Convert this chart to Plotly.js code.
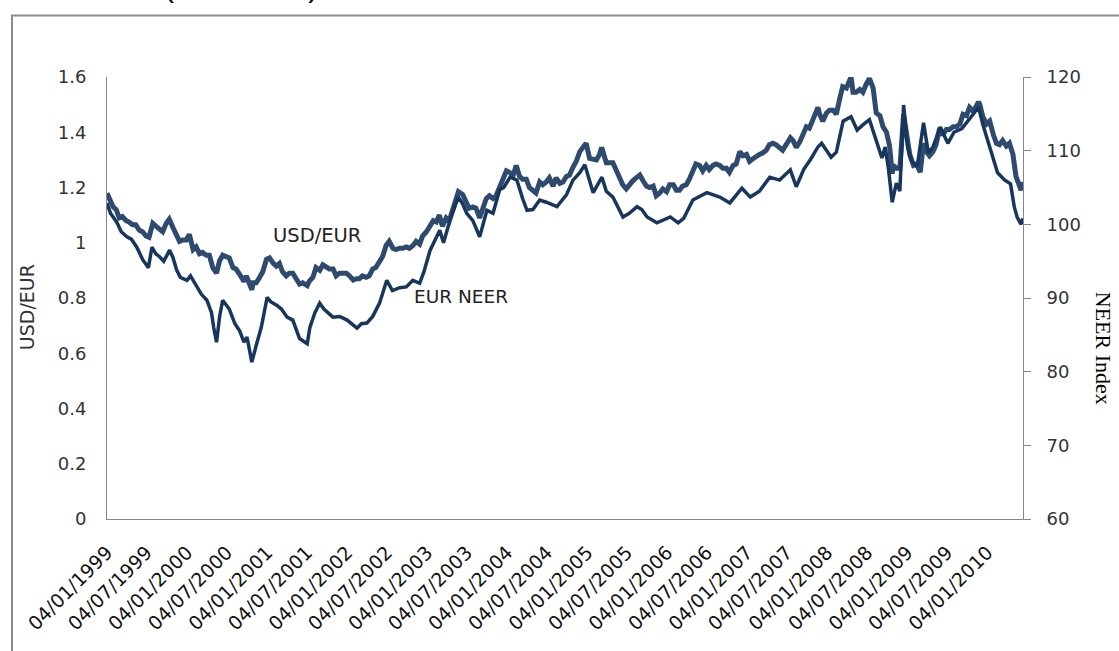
<!DOCTYPE html>
<html><head><meta charset="utf-8">
<script src="https://cdn.plot.ly/plotly-3.0.1.min.js"></script>
<style>html,body{margin:0;padding:0;background:#fff}#chart{width:1119px;height:651px}</style>
</head><body><div id="chart"></div>
<script>
// USD/EUR (left axis)
const usdDates = ["1999-01-04","1999-01-15","1999-02-01","1999-02-15","1999-03-01","1999-03-15","1999-04-01","1999-04-15","1999-05-01","1999-05-15","1999-06-01","1999-06-15","1999-07-01","1999-07-15","1999-08-01","1999-08-15","1999-09-01","1999-09-15","1999-10-01","1999-10-15","1999-11-01","1999-11-15","1999-12-01","1999-12-15",
"2000-01-01","2000-01-15","2000-02-01","2000-02-15","2000-03-01","2000-03-15","2000-04-01","2000-04-15","2000-05-01","2000-05-18","2000-06-01","2000-06-15","2000-07-01","2000-07-15","2000-08-01","2000-08-15","2000-09-01","2000-09-20","2000-10-01","2000-10-15","2000-10-26","2000-11-01","2000-11-15","2000-12-01","2000-12-15",
"2001-01-01","2001-01-15","2001-02-01","2001-02-15","2001-03-01","2001-03-15","2001-04-01","2001-04-15","2001-05-01","2001-05-15","2001-06-01","2001-06-15","2001-07-06","2001-07-15","2001-08-01","2001-08-15","2001-09-01","2001-09-15","2001-10-01","2001-10-15","2001-11-01","2001-11-15","2001-12-01","2001-12-15",
"2002-01-01","2002-01-15","2002-02-01","2002-02-15","2002-03-01","2002-03-15","2002-04-01","2002-04-15","2002-05-01","2002-05-15","2002-06-01","2002-06-15","2002-07-01","2002-07-15","2002-08-01","2002-08-15","2002-09-01","2002-09-15","2002-10-01","2002-10-15","2002-11-01","2002-11-15","2002-12-01","2002-12-15",
"2003-01-01","2003-01-15","2003-02-01","2003-02-15","2003-03-01","2003-03-15","2003-04-01","2003-04-15","2003-05-01","2003-05-15","2003-05-27","2003-06-15","2003-07-01","2003-07-15","2003-08-01","2003-08-15","2003-09-01","2003-09-15","2003-10-01","2003-10-15","2003-11-01","2003-11-15","2003-12-01","2003-12-15",
"2004-01-01","2004-01-15","2004-02-01","2004-02-15","2004-03-01","2004-03-15","2004-04-01","2004-04-15","2004-05-01","2004-05-15","2004-06-01","2004-06-15","2004-07-01","2004-07-15","2004-08-01","2004-08-15","2004-09-01","2004-09-15","2004-10-01","2004-10-15","2004-11-01","2004-11-15","2004-12-01","2004-12-30",
"2005-01-15","2005-02-01","2005-02-15","2005-03-01","2005-03-11","2005-04-01","2005-04-15","2005-05-01","2005-05-15","2005-06-01","2005-06-15","2005-07-01","2005-07-15","2005-08-01","2005-08-15","2005-09-01","2005-09-15","2005-10-01","2005-10-15","2005-11-01","2005-11-15","2005-12-01","2005-12-15",
"2006-01-01","2006-01-15","2006-02-01","2006-02-15","2006-03-01","2006-03-15","2006-04-01","2006-04-15","2006-05-01","2006-05-15","2006-06-01","2006-06-15","2006-07-01","2006-07-15","2006-08-01","2006-08-15","2006-09-01","2006-09-15","2006-10-01","2006-10-15","2006-11-01","2006-11-15","2006-12-01","2006-12-15",
"2007-01-01","2007-01-15","2007-02-01","2007-02-15","2007-03-01","2007-03-15","2007-04-01","2007-04-15","2007-05-01","2007-05-15","2007-06-01","2007-06-15","2007-07-01","2007-07-20","2007-08-01","2007-08-16","2007-09-01","2007-09-15","2007-10-01","2007-10-15","2007-11-01","2007-11-23","2007-12-01","2007-12-15",
"2008-01-01","2008-01-15","2008-02-01","2008-02-15","2008-03-01","2008-03-15","2008-04-01","2008-04-22","2008-05-01","2008-05-15","2008-06-01","2008-06-15","2008-07-01","2008-07-15","2008-08-01","2008-08-15","2008-09-01","2008-09-15","2008-10-01","2008-10-15","2008-10-27","2008-11-01","2008-11-15","2008-12-01","2008-12-18","2008-12-31",
"2009-01-15","2009-02-01","2009-02-15","2009-03-04","2009-03-19","2009-04-01","2009-04-15","2009-05-01","2009-05-15","2009-06-01","2009-06-15","2009-07-01","2009-07-15","2009-08-01","2009-08-15","2009-09-01","2009-09-15","2009-10-01","2009-10-15","2009-11-01","2009-11-25","2009-12-01","2009-12-15",
"2010-01-01","2010-01-15","2010-02-01","2010-02-15","2010-03-01","2010-03-15","2010-04-01","2010-04-15","2010-05-01","2010-05-15","2010-06-07","2010-06-15"];
const usdVals = [1.179,1.16,1.13,1.12,1.09,1.095,1.08,1.075,1.065,1.065,1.045,1.04,1.025,1.02,1.07,1.06,1.05,1.04,1.07,1.085,1.055,1.035,1.005,1.01,
1.01,1.03,0.975,0.985,0.96,0.965,0.955,0.955,0.91,0.89,0.935,0.955,0.95,0.945,0.91,0.905,0.885,0.86,0.88,0.855,0.83,0.855,0.855,0.875,0.895,
0.94,0.945,0.925,0.915,0.925,0.895,0.88,0.89,0.89,0.875,0.85,0.855,0.845,0.86,0.875,0.91,0.90,0.92,0.91,0.905,0.905,0.88,0.89,0.89,
0.89,0.88,0.865,0.87,0.87,0.88,0.875,0.88,0.905,0.91,0.935,0.95,0.99,1.005,0.98,0.975,0.98,0.98,0.985,0.98,0.99,1.005,0.995,1.025,
1.04,1.06,1.08,1.075,1.10,1.06,1.09,1.08,1.12,1.15,1.185,1.175,1.145,1.125,1.13,1.125,1.09,1.125,1.16,1.17,1.16,1.17,1.20,1.23,
1.26,1.255,1.245,1.28,1.24,1.23,1.23,1.20,1.19,1.18,1.22,1.21,1.22,1.235,1.205,1.235,1.215,1.22,1.24,1.245,1.275,1.295,1.33,1.36,
1.305,1.30,1.30,1.32,1.345,1.29,1.29,1.29,1.265,1.23,1.21,1.195,1.21,1.225,1.235,1.245,1.225,1.205,1.20,1.205,1.17,1.18,1.195,
1.185,1.21,1.21,1.19,1.19,1.205,1.21,1.23,1.265,1.285,1.28,1.26,1.28,1.265,1.28,1.285,1.28,1.27,1.27,1.255,1.28,1.285,1.33,1.315,
1.32,1.295,1.305,1.315,1.32,1.325,1.335,1.355,1.36,1.355,1.345,1.335,1.355,1.38,1.37,1.345,1.365,1.39,1.42,1.415,1.445,1.49,1.465,1.44,
1.47,1.48,1.48,1.465,1.52,1.565,1.56,1.60,1.545,1.545,1.555,1.545,1.575,1.595,1.56,1.47,1.46,1.42,1.40,1.35,1.25,1.28,1.27,1.27,1.465,1.40,
1.32,1.28,1.285,1.255,1.36,1.33,1.315,1.33,1.355,1.415,1.39,1.41,1.41,1.42,1.42,1.43,1.465,1.46,1.49,1.475,1.51,1.50,1.455,
1.43,1.44,1.39,1.36,1.355,1.37,1.35,1.36,1.32,1.24,1.19,1.22];

// EUR NEER (right axis, NEER Index)
const neerDates = ["1999-01-04","1999-01-20","1999-02-19","1999-03-10","1999-04-05","1999-04-25","1999-05-20","1999-06-16","1999-07-12","1999-07-28","1999-08-15","1999-09-01","1999-09-20","1999-10-17","1999-11-01","1999-11-18","1999-12-05",
"2000-01-04","2000-01-20","2000-02-18","2000-03-10","2000-04-04","2000-04-25","2000-05-05","2000-05-18","2000-06-01","2000-06-15","2000-07-15","2000-08-10","2000-09-01","2000-09-20","2000-10-04","2000-10-26","2000-11-18","2000-12-08",
"2001-01-04","2001-01-20","2001-02-18","2001-03-10","2001-04-05","2001-05-01","2001-06-01","2001-07-06","2001-07-18","2001-08-10","2001-09-01","2001-09-20","2001-10-31","2001-12-01",
"2002-01-04","2002-02-18","2002-03-10","2002-04-04","2002-05-01","2002-06-01","2002-07-04","2002-07-30","2002-09-01","2002-10-01","2002-10-31","2002-12-01","2002-12-20",
"2003-01-18","2003-03-03","2003-03-20","2003-04-18","2003-05-26","2003-06-15","2003-07-04","2003-08-01","2003-09-01","2003-10-04","2003-11-01","2003-12-01","2003-12-20",
"2004-01-18","2004-02-18","2004-03-15","2004-04-04","2004-05-01","2004-06-01","2004-07-01","2004-08-19","2004-09-01","2004-10-01","2004-10-31","2004-12-01","2004-12-24",
"2005-01-31","2005-03-12","2005-04-01","2005-05-01","2005-06-16","2005-07-15","2005-08-19","2005-09-10","2005-10-04","2005-11-18","2005-12-15",
"2006-01-18","2006-02-23","2006-03-20","2006-05-01","2006-06-01","2006-07-04","2006-09-01","2006-10-17","2006-12-11",
"2007-01-18","2007-03-01","2007-04-17","2007-06-01","2007-07-20","2007-08-16","2007-09-20","2007-10-20","2007-11-23","2007-12-10",
"2008-01-22","2008-02-15","2008-03-17","2008-04-22","2008-05-20","2008-06-15","2008-07-15","2008-08-15","2008-09-10","2008-09-25","2008-10-10","2008-10-27","2008-11-15","2008-12-01","2008-12-18",
"2009-01-05","2009-01-25","2009-02-18","2009-03-19","2009-04-10","2009-05-01","2009-06-03","2009-07-08","2009-08-05","2009-09-10","2009-10-20","2009-11-25","2009-12-15",
"2010-01-15","2010-02-20","2010-03-25","2010-04-20","2010-05-07","2010-05-20","2010-06-07","2010-06-15"];
const neerVals = [102.9,101.5,100.2,99.0,98.3,98.0,96.9,95.2,94.1,96.9,96.0,95.6,95.0,96.5,95.5,93.8,92.8,
92.4,93.0,91.5,90.5,89.7,88.0,86.0,84.0,87.5,89.7,88.5,86.5,85.5,84.0,84.7,81.3,83.9,86.0,
90.1,89.5,89.0,88.5,87.4,87.0,84.5,83.8,86.0,88.0,89.3,88.5,87.4,87.5,
87.0,85.9,86.5,86.6,87.5,89.3,92.4,91.0,91.4,91.5,92.4,92.0,93.5,
96.5,99.2,97.5,100.5,103.7,102.8,101.5,100.5,98.3,101.9,101.5,104.7,105.0,
106.4,106.0,103.5,101.9,102.0,103.3,103.0,102.4,102.9,104.0,106.0,107.0,108.1,
104.3,106.4,104.5,103.7,101.0,101.5,102.4,102.0,101.0,100.2,100.5,
101.0,100.2,100.8,103.3,103.8,104.3,103.7,102.9,104.9,
103.7,104.5,106.4,106.0,107.4,105.1,107.5,108.8,110.5,111.0,
109.1,109.8,114.0,114.6,112.8,113.5,114.2,111.4,109.0,110.5,107.5,103.0,105.6,104.5,116.2,
110.5,108.5,107.8,113.8,109.7,110.5,113.2,111.0,112.5,113.0,114.5,115.9,113.5,
110.5,107.0,106.0,105.5,102.4,101.0,100.0,100.8];

const leftTitle = "USD/EUR";
const rightTitle = "NEER Index";
const usdLabel = "USD/EUR";
const neerLabel = "EUR NEER";
const headText = "(1999=100)";

const axisGray = "#868686";
const tickFont = {family: "DejaVu Sans", size: 18, color: "#333333"};

const traces = [
  {x: usdDates, y: usdVals, type: "scatter", mode: "lines", name: usdLabel, yaxis: "y",
   line: {color: "#2E4B6F", width: 5}},
  {x: neerDates, y: neerVals, type: "scatter", mode: "lines", name: neerLabel, yaxis: "y2",
   line: {color: "#17365D", width: 3.5}}
];

const layout = {
  width: 1119, height: 651,
  margin: {l: 107, r: 96, t: 77, b: 132},
  paper_bgcolor: "#ffffff", plot_bgcolor: "#ffffff",
  showlegend: false, hovermode: false,
  xaxis: {type: "date", range: ["1999-01-04", "2010-06-16"],
    tick0: "1999-01-04", dtick: "M6", tickformat: "%d/%m/%Y", tickangle: -45,
    showgrid: false, zeroline: false, showline: true, linecolor: axisGray, linewidth: 1,
    ticks: "", ticklabelstandoff: 14,
    tickfont: {family: "DejaVu Sans", size: 19, color: "#111111"}},
  yaxis: {range: [0, 1.6], dtick: 0.2, showgrid: false, zeroline: false,
    showline: true, linecolor: axisGray, linewidth: 1, ticks: "", ticklabelstandoff: 16,
    tickfont: tickFont},
  yaxis2: {range: [60, 120], dtick: 10, overlaying: "y", side: "right", showgrid: false,
    zeroline: false, showline: true, linecolor: axisGray, linewidth: 1,
    ticks: "outside", ticklen: 7, tickcolor: axisGray, ticklabelstandoff: 12, tickfont: tickFont},
  shapes: [
    {type: "rect", xref: "paper", yref: "paper", x0: -0.1037, x1: 1.2, y0: -0.4, y1: 1.139,
     line: {color: "#8C8C8C", width: 2}, fillcolor: "rgba(0,0,0,0)", layer: "below"}
  ],
  annotations: [
    {text: leftTitle, xref: "paper", yref: "paper", x: -0.087, y: 0.48, xanchor: "center", yanchor: "middle",
     showarrow: false, textangle: -90, font: {family: "DejaVu Sans", size: 19, color: "#333333"}},
    {text: rightTitle, xref: "paper", yref: "paper", x: 1.0875, y: 0.387, xanchor: "center", yanchor: "middle",
     showarrow: false, textangle: 90, font: {family: "Liberation Serif", size: 22, color: "#000000"}},
    {text: usdLabel, xref: "paper", yref: "paper", x: 0.229, y: 0.6425, xanchor: "center", yanchor: "middle",
     showarrow: false, font: {family: "DejaVu Sans", size: 19.5, color: "#222222"}},
    {text: neerLabel, xref: "paper", yref: "paper", x: 0.3865, y: 0.5045, xanchor: "center", yanchor: "middle",
     showarrow: false, font: {family: "DejaVu Sans", size: 18.5, color: "#222222"}},
    {text: headText, xref: "paper", yref: "paper", x: 0.146, y: 1.163, xanchor: "center", yanchor: "bottom",
     showarrow: false, font: {family: "Liberation Sans", size: 30, color: "#000000"}}
  ]
};

Plotly.newPlot("chart", traces, layout, {displayModeBar: false, staticPlot: true});
</script>
</body></html>
